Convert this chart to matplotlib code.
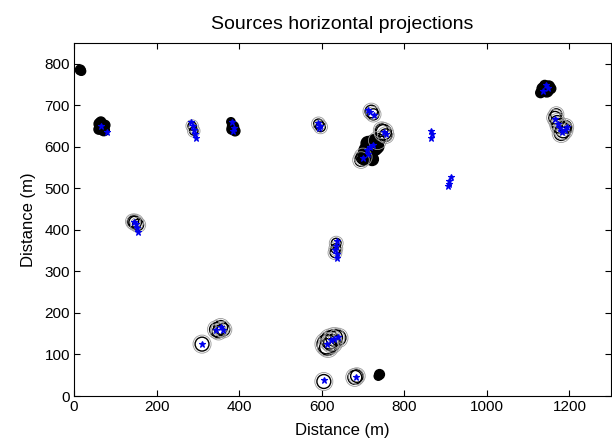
import matplotlib
matplotlib.use("Agg")
from matplotlib import pyplot as plt

plt.rcParams['font.family'] = ['Liberation Sans', 'DejaVu Sans']

# dense (black) source groups: x, y, marker size
blob_x = [15, 18, 62, 68, 72, 65, 75, 60, 380, 385, 390, 382, 1135, 1145, 1150, 1140, 1130, 1155,
          702, 710, 720, 715, 725, 705, 730, 712, 722, 735, 740, 737]
blob_y = [785, 782, 655, 648, 640, 660, 652, 642, 660, 648, 638, 642, 740, 735, 745, 748, 730, 740,
          572, 590, 602, 585, 612, 580, 595, 608, 570, 600, 52, 48]
blob_s = [7, 6, 8, 9, 8, 7, 7, 7, 6, 8, 7, 7, 8, 9, 8, 7, 7, 7,
          9, 12, 12, 11, 10, 9, 9, 10, 9, 9, 7, 6]

# open circles (uncertainty rings): x, y, marker size
ring_x = [310, 345, 355, 362, 350, 605, 680, 685, 612, 620, 630, 640, 615, 625,
          750, 745, 755, 1165, 1170, 1175, 1185, 1190, 1180, 1168, 720, 725,
          700, 695, 735, 148, 143, 155, 635, 634, 632, 592, 597, 286, 290]
ring_y = [125, 160, 165, 160, 155, 35, 45, 48, 125, 135, 140, 140, 118, 128,
          635, 640, 628, 670, 660, 650, 640, 648, 632, 678, 685, 678,
          575, 568, 615, 418, 420, 412, 368, 355, 345, 655, 648, 650, 638]
ring_s = [10, 10, 10, 9, 9, 10, 10, 9, 14, 13, 12, 11, 12, 12,
          11, 9, 9, 9, 9, 10, 11, 9, 10, 8, 9, 8,
          10, 9, 10, 9, 8, 8, 7, 7, 7, 7, 7, 6, 6]

# source positions (blue)
src_x = [80, 65, 284, 288, 291, 292, 295, 383, 388, 385, 145, 150, 156, 153,
         592, 596, 594, 712, 718, 727, 700, 710, 718, 725, 712, 750, 755,
         865, 868, 864, 912, 909, 905, 908, 1135, 1148, 1142,
         1165, 1172, 1178, 1188, 1182, 1195, 637, 635, 633, 636, 638,
         612, 622, 630, 640, 310, 345, 355, 360, 605, 682]
src_y = [635, 650, 660, 650, 640, 630, 622, 660, 645, 638, 418, 414, 396, 405,
         658, 650, 644, 688, 684, 676, 572, 592, 600, 605, 582, 636, 630,
         638, 630, 622, 528, 518, 505, 510, 735, 742, 748,
         668, 656, 645, 640, 635, 648, 372, 362, 352, 342, 333,
         125, 135, 138, 142, 125, 160, 165, 160, 38, 45]

fig = plt.figure(figsize=(6.12, 4.47), dpi=100)
ax = fig.add_axes([0.121, 0.114, 0.877, 0.790])

ax.scatter(blob_x, blob_y, s=[v ** 2 for v in blob_s], facecolors='k', edgecolors='k', linewidths=1.0, zorder=2)
ax.scatter(ring_x, ring_y, s=[v ** 2 for v in ring_s], facecolors='none', edgecolors='k', linewidths=1.0, zorder=3)
ax.scatter(ring_x, ring_y, s=[(v + 3) ** 2 for v in ring_s], facecolors='none', edgecolors='0.6', linewidths=0.6, zorder=3)
ax.plot(src_x, src_y, '*', color='#0000ee', markersize=4.5, markeredgewidth=0.8, zorder=4)

ax.set_xlim(0, 1300)
ax.set_ylim(0, 850)
ax.set_xticks(range(0, 1201, 200))
ax.set_yticks(range(0, 801, 100))
ax.tick_params(direction='in', top=True, right=True, labelsize=11, length=4, pad=3)
ax.set_title('Sources horizontal projections', fontsize=14, pad=10)
ax.set_xlabel('Distance (m)', fontsize=12, labelpad=6)
ax.set_ylabel('Distance (m)', fontsize=12, labelpad=6)

plt.savefig('out.png', dpi=100)
